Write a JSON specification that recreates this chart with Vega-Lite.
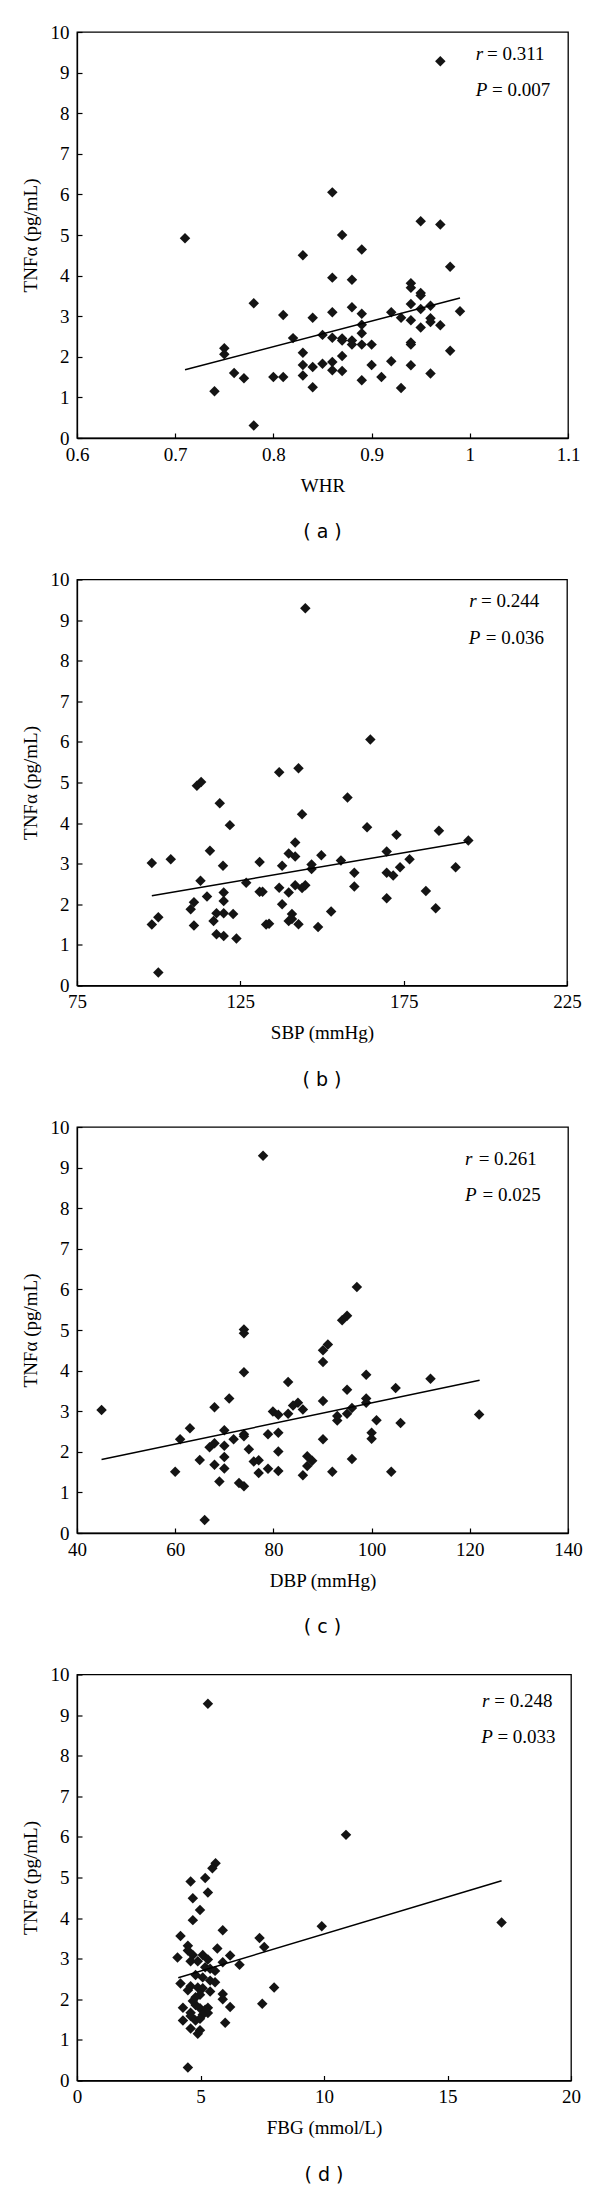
{
  "$schema": "https://vega.github.io/schema/vega-lite/v6.json",
  "background": "white",
  "padding": {"left": 20, "top": 22, "right": 5, "bottom": 2},
  "spacing": 26.5,
  "config": {
    "view": {"stroke": "#000", "strokeWidth": 1.3},
    "font": "Liberation Serif",
    "axis": {"grid": false, "domainColor": "#000", "domainWidth": 1.3, "tickColor": "#000", "tickWidth": 1.2, "tickSize": -5,
      "labelFont": "Liberation Serif", "labelFontSize": 19, "labelColor": "#000",
      "titleFont": "Liberation Serif", "titleFontSize": 19, "titleFontWeight": "normal", "titleColor": "#000",
      "labelFlush": false, "labelOverlap": false},
    "axisX": {"labelPadding": 12, "titlePadding": 12},
    "axisY": {"labelPadding": 13, "titlePadding": 10},
    "title": {"font": "DejaVu Sans", "fontSize": 19, "fontWeight": "normal", "color": "#000", "orient": "bottom", "offset": 28, "anchor": "middle", "frame": "group"},
    "text": {"font": "Liberation Serif", "fontSize": 19, "color": "#000"},
    "point": {"shape": "diamond", "filled": true, "size": 110, "color": "#141414", "opacity": 1},
    "line": {"color": "#000", "strokeWidth": 1.5}
  },
  "datasets": {
    "whr": [
      {"whr":0.97,"tnf":9.28},{"whr":0.86,"tnf":6.05},{"whr":0.95,"tnf":5.34},{"whr":0.97,"tnf":5.26},{"whr":0.71,"tnf":4.92},{"whr":0.87,"tnf":5.00},{"whr":0.89,"tnf":4.64},{"whr":0.83,"tnf":4.50},{"whr":0.98,"tnf":4.22},{"whr":0.86,"tnf":3.95},{"whr":0.88,"tnf":3.90},{"whr":0.94,"tnf":3.81},{"whr":0.94,"tnf":3.70},{"whr":0.95,"tnf":3.57},{"whr":0.95,"tnf":3.51},{"whr":0.78,"tnf":3.32},{"whr":0.94,"tnf":3.30},{"whr":0.96,"tnf":3.26},{"whr":0.88,"tnf":3.22},{"whr":0.95,"tnf":3.18},{"whr":0.99,"tnf":3.12},{"whr":0.86,"tnf":3.10},{"whr":0.92,"tnf":3.10},{"whr":0.89,"tnf":3.06},{"whr":0.81,"tnf":3.03},{"whr":0.84,"tnf":2.96},{"whr":0.93,"tnf":2.96},{"whr":0.96,"tnf":2.95},{"whr":0.94,"tnf":2.90},{"whr":0.96,"tnf":2.86},{"whr":0.89,"tnf":2.79},{"whr":0.97,"tnf":2.78},{"whr":0.95,"tnf":2.72},{"whr":0.89,"tnf":2.58},{"whr":0.85,"tnf":2.54},{"whr":0.86,"tnf":2.47},{"whr":0.87,"tnf":2.45},{"whr":0.82,"tnf":2.46},{"whr":0.87,"tnf":2.40},{"whr":0.88,"tnf":2.40},{"whr":0.94,"tnf":2.35},{"whr":0.88,"tnf":2.30},{"whr":0.89,"tnf":2.30},{"whr":0.90,"tnf":2.30},{"whr":0.94,"tnf":2.30},{"whr":0.75,"tnf":2.21},{"whr":0.75,"tnf":2.06},{"whr":0.98,"tnf":2.15},{"whr":0.83,"tnf":2.10},{"whr":0.87,"tnf":2.02},{"whr":0.92,"tnf":1.89},{"whr":0.86,"tnf":1.87},{"whr":0.85,"tnf":1.83},{"whr":0.83,"tnf":1.80},{"whr":0.90,"tnf":1.80},{"whr":0.94,"tnf":1.79},{"whr":0.84,"tnf":1.75},{"whr":0.86,"tnf":1.67},{"whr":0.87,"tnf":1.65},{"whr":0.76,"tnf":1.60},{"whr":0.96,"tnf":1.59},{"whr":0.83,"tnf":1.54},{"whr":0.77,"tnf":1.47},{"whr":0.80,"tnf":1.50},{"whr":0.81,"tnf":1.50},{"whr":0.91,"tnf":1.50},{"whr":0.89,"tnf":1.42},{"whr":0.84,"tnf":1.25},{"whr":0.93,"tnf":1.23},{"whr":0.74,"tnf":1.15},{"whr":0.78,"tnf":0.31}
    ],
    "fit_whr": [{"whr":0.71,"tnf":1.68},{"whr":0.99,"tnf":3.45}],
    "sbp": [
      {"sbp":144.9,"tnf":9.29},{"sbp":164.8,"tnf":6.06},{"sbp":136.9,"tnf":5.25},{"sbp":142.8,"tnf":5.35},{"sbp":111.7,"tnf":4.92},{"sbp":113.0,"tnf":5.01},{"sbp":157.8,"tnf":4.63},{"sbp":118.7,"tnf":4.49},{"sbp":143.9,"tnf":4.22},{"sbp":121.8,"tnf":3.95},{"sbp":163.8,"tnf":3.90},{"sbp":185.8,"tnf":3.81},{"sbp":172.8,"tnf":3.71},{"sbp":194.8,"tnf":3.57},{"sbp":141.8,"tnf":3.52},{"sbp":115.7,"tnf":3.32},{"sbp":169.8,"tnf":3.30},{"sbp":139.8,"tnf":3.25},{"sbp":149.8,"tnf":3.21},{"sbp":141.8,"tnf":3.18},{"sbp":103.7,"tnf":3.11},{"sbp":176.8,"tnf":3.11},{"sbp":155.8,"tnf":3.08},{"sbp":97.9,"tnf":3.02},{"sbp":130.9,"tnf":3.04},{"sbp":146.8,"tnf":2.98},{"sbp":119.7,"tnf":2.95},{"sbp":137.8,"tnf":2.95},{"sbp":173.9,"tnf":2.91},{"sbp":190.9,"tnf":2.91},{"sbp":146.8,"tnf":2.87},{"sbp":159.9,"tnf":2.78},{"sbp":169.8,"tnf":2.78},{"sbp":171.8,"tnf":2.71},{"sbp":112.8,"tnf":2.58},{"sbp":126.8,"tnf":2.53},{"sbp":141.8,"tnf":2.47},{"sbp":144.9,"tnf":2.47},{"sbp":136.9,"tnf":2.41},{"sbp":143.9,"tnf":2.40},{"sbp":159.9,"tnf":2.44},{"sbp":181.8,"tnf":2.33},{"sbp":130.9,"tnf":2.31},{"sbp":131.8,"tnf":2.31},{"sbp":119.9,"tnf":2.29},{"sbp":139.8,"tnf":2.29},{"sbp":114.8,"tnf":2.19},{"sbp":169.8,"tnf":2.15},{"sbp":119.9,"tnf":2.08},{"sbp":110.8,"tnf":2.05},{"sbp":137.8,"tnf":2.00},{"sbp":109.8,"tnf":1.88},{"sbp":184.8,"tnf":1.90},{"sbp":152.8,"tnf":1.82},{"sbp":117.7,"tnf":1.78},{"sbp":119.9,"tnf":1.78},{"sbp":122.8,"tnf":1.76},{"sbp":140.8,"tnf":1.76},{"sbp":99.9,"tnf":1.68},{"sbp":139.8,"tnf":1.59},{"sbp":116.8,"tnf":1.59},{"sbp":140.8,"tnf":1.64},{"sbp":97.9,"tnf":1.50},{"sbp":110.8,"tnf":1.48},{"sbp":132.9,"tnf":1.50},{"sbp":133.8,"tnf":1.52},{"sbp":142.8,"tnf":1.51},{"sbp":148.8,"tnf":1.44},{"sbp":117.7,"tnf":1.26},{"sbp":119.9,"tnf":1.22},{"sbp":123.8,"tnf":1.16},{"sbp":99.9,"tnf":0.32}
    ],
    "fit_sbp": [{"sbp":97.9,"tnf":2.21},{"sbp":194.8,"tnf":3.54}],
    "dbp": [
      {"dbp":77.9,"tnf":9.29},{"dbp":97.0,"tnf":6.06},{"dbp":94.0,"tnf":5.24},{"dbp":95.0,"tnf":5.35},{"dbp":74.0,"tnf":5.01},{"dbp":74.0,"tnf":4.92},{"dbp":91.1,"tnf":4.64},{"dbp":90.1,"tnf":4.50},{"dbp":90.1,"tnf":4.21},{"dbp":74.0,"tnf":3.96},{"dbp":98.9,"tnf":3.90},{"dbp":112.0,"tnf":3.80},{"dbp":83.0,"tnf":3.72},{"dbp":104.9,"tnf":3.57},{"dbp":95.0,"tnf":3.53},{"dbp":71.0,"tnf":3.31},{"dbp":98.9,"tnf":3.31},{"dbp":98.9,"tnf":3.21},{"dbp":90.1,"tnf":3.25},{"dbp":85.0,"tnf":3.21},{"dbp":84.0,"tnf":3.14},{"dbp":68.0,"tnf":3.10},{"dbp":96.0,"tnf":3.08},{"dbp":86.0,"tnf":3.04},{"dbp":45.0,"tnf":3.03},{"dbp":79.9,"tnf":2.99},{"dbp":83.0,"tnf":2.94},{"dbp":95.0,"tnf":2.94},{"dbp":121.9,"tnf":2.92},{"dbp":81.0,"tnf":2.91},{"dbp":93.0,"tnf":2.88},{"dbp":93.0,"tnf":2.77},{"dbp":101.0,"tnf":2.78},{"dbp":105.9,"tnf":2.71},{"dbp":63.0,"tnf":2.58},{"dbp":70.0,"tnf":2.53},{"dbp":81.0,"tnf":2.47},{"dbp":100.0,"tnf":2.47},{"dbp":74.0,"tnf":2.43},{"dbp":78.9,"tnf":2.43},{"dbp":74.0,"tnf":2.38},{"dbp":61.0,"tnf":2.31},{"dbp":71.9,"tnf":2.31},{"dbp":90.1,"tnf":2.31},{"dbp":100.0,"tnf":2.32},{"dbp":68.0,"tnf":2.21},{"dbp":70.0,"tnf":2.15},{"dbp":67.0,"tnf":2.11},{"dbp":75.0,"tnf":2.06},{"dbp":81.0,"tnf":2.01},{"dbp":86.9,"tnf":1.89},{"dbp":70.0,"tnf":1.87},{"dbp":65.0,"tnf":1.80},{"dbp":96.0,"tnf":1.82},{"dbp":77.0,"tnf":1.79},{"dbp":87.9,"tnf":1.78},{"dbp":76.0,"tnf":1.76},{"dbp":68.0,"tnf":1.68},{"dbp":86.9,"tnf":1.65},{"dbp":78.9,"tnf":1.58},{"dbp":70.0,"tnf":1.59},{"dbp":81.0,"tnf":1.53},{"dbp":60.0,"tnf":1.51},{"dbp":77.0,"tnf":1.48},{"dbp":92.0,"tnf":1.51},{"dbp":104.0,"tnf":1.51},{"dbp":86.0,"tnf":1.42},{"dbp":69.0,"tnf":1.27},{"dbp":73.0,"tnf":1.23},{"dbp":74.0,"tnf":1.15},{"dbp":66.0,"tnf":0.32}
    ],
    "fit_dbp": [{"dbp":45.0,"tnf":1.81},{"dbp":122.0,"tnf":3.76}],
    "fbg": [
      {"fbg":5.30,"tnf":9.28},{"fbg":10.89,"tnf":6.05},{"fbg":5.61,"tnf":5.35},{"fbg":5.48,"tnf":5.23},{"fbg":4.60,"tnf":4.90},{"fbg":5.19,"tnf":4.99},{"fbg":5.30,"tnf":4.63},{"fbg":4.69,"tnf":4.49},{"fbg":4.98,"tnf":4.20},{"fbg":4.69,"tnf":3.95},{"fbg":5.90,"tnf":3.70},{"fbg":9.91,"tnf":3.80},{"fbg":17.19,"tnf":3.89},{"fbg":4.19,"tnf":3.56},{"fbg":7.39,"tnf":3.51},{"fbg":4.49,"tnf":3.32},{"fbg":7.58,"tnf":3.29},{"fbg":5.68,"tnf":3.25},{"fbg":4.49,"tnf":3.20},{"fbg":4.69,"tnf":3.09},{"fbg":5.09,"tnf":3.09},{"fbg":6.20,"tnf":3.08},{"fbg":4.07,"tnf":3.03},{"fbg":5.30,"tnf":2.98},{"fbg":4.60,"tnf":2.94},{"fbg":4.89,"tnf":2.94},{"fbg":5.90,"tnf":2.91},{"fbg":6.58,"tnf":2.85},{"fbg":5.19,"tnf":2.79},{"fbg":5.39,"tnf":2.75},{"fbg":5.59,"tnf":2.70},{"fbg":5.09,"tnf":2.54},{"fbg":5.39,"tnf":2.46},{"fbg":5.59,"tnf":2.42},{"fbg":4.19,"tnf":2.39},{"fbg":4.60,"tnf":2.32},{"fbg":4.89,"tnf":2.29},{"fbg":7.98,"tnf":2.29},{"fbg":5.09,"tnf":2.27},{"fbg":5.39,"tnf":2.19},{"fbg":5.90,"tnf":2.13},{"fbg":4.98,"tnf":2.11},{"fbg":4.80,"tnf":2.05},{"fbg":5.90,"tnf":2.00},{"fbg":7.50,"tnf":1.89},{"fbg":4.80,"tnf":1.86},{"fbg":4.29,"tnf":1.79},{"fbg":6.20,"tnf":1.81},{"fbg":4.98,"tnf":1.78},{"fbg":5.30,"tnf":1.79},{"fbg":5.19,"tnf":1.74},{"fbg":5.30,"tnf":1.66},{"fbg":4.60,"tnf":1.67},{"fbg":4.60,"tnf":1.59},{"fbg":5.09,"tnf":1.62},{"fbg":4.29,"tnf":1.48},{"fbg":4.80,"tnf":1.48},{"fbg":4.98,"tnf":1.52},{"fbg":6.00,"tnf":1.42},{"fbg":4.60,"tnf":1.28},{"fbg":4.98,"tnf":1.24},{"fbg":4.89,"tnf":1.15},{"fbg":4.49,"tnf":0.32},{"fbg":4.49,"tnf":2.22},{"fbg":4.69,"tnf":1.96},{"fbg":4.80,"tnf":2.60}
    ],
    "fit_fbg": [{"fbg":4.10,"tnf":2.53},{"fbg":17.19,"tnf":4.92}]
  },
  "vconcat": [
    {
      "width": 491, "height": 406,
      "title": {"text": "( a )"},
      "layer": [
        {"data": {"name": "whr"}, "mark": {"type": "point"},
         "encoding": {
           "x": {"field": "whr", "type": "quantitative", "scale": {"domain": [0.6, 1.1], "nice": false, "zero": false}, "axis": {"title": "WHR", "values": [0.6, 0.7, 0.8, 0.9, 1, 1.1], "format": "~g"}},
           "y": {"field": "tnf", "type": "quantitative", "scale": {"domain": [0, 10], "nice": false}, "axis": {"title": "TNFα (pg/mL)", "values": [0,1,2,3,4,5,6,7,8,9,10]}}}},
        {"data": {"name": "fit_whr"}, "mark": {"type": "line"},
         "encoding": {
           "x": {"field": "whr", "type": "quantitative", "scale": {"domain": [0.6, 1.1], "nice": false, "zero": false}, "axis": {"title": "WHR"}},
           "y": {"field": "tnf", "type": "quantitative", "scale": {"domain": [0, 10], "nice": false}, "axis": {"title": "TNFα (pg/mL)"}}}},
        {"data": {"values": [{"t": "r"}]}, "mark": {"type": "text", "fontStyle": "italic", "align": "left", "baseline": "middle"},
         "encoding": {"x": {"datum": 1.006, "type": "quantitative"}, "y": {"datum": 9.47, "type": "quantitative"}, "text": {"field": "t"}}},
        {"data": {"values": [{"t": "= 0.311"}]}, "mark": {"type": "text", "align": "left", "baseline": "middle"},
         "encoding": {"x": {"datum": 1.0176, "type": "quantitative"}, "y": {"datum": 9.47, "type": "quantitative"}, "text": {"field": "t"}}},
        {"data": {"values": [{"t": "P"}]}, "mark": {"type": "text", "fontStyle": "italic", "align": "left", "baseline": "middle"},
         "encoding": {"x": {"datum": 1.006, "type": "quantitative"}, "y": {"datum": 8.58, "type": "quantitative"}, "text": {"field": "t"}}},
        {"data": {"values": [{"t": "= 0.007"}]}, "mark": {"type": "text", "align": "left", "baseline": "middle"},
         "encoding": {"x": {"datum": 1.0227, "type": "quantitative"}, "y": {"datum": 8.58, "type": "quantitative"}, "text": {"field": "t"}}}
      ]
    },
    {
      "width": 490, "height": 406,
      "title": {"text": "( b )"},
      "layer": [
        {"data": {"name": "sbp"}, "mark": {"type": "point"},
         "encoding": {
           "x": {"field": "sbp", "type": "quantitative", "scale": {"domain": [75, 225], "nice": false, "zero": false}, "axis": {"title": "SBP (mmHg)", "values": [75, 125, 175, 225]}},
           "y": {"field": "tnf", "type": "quantitative", "scale": {"domain": [0, 10], "nice": false}, "axis": {"title": "TNFα (pg/mL)", "values": [0,1,2,3,4,5,6,7,8,9,10]}}}},
        {"data": {"name": "fit_sbp"}, "mark": {"type": "line"},
         "encoding": {
           "x": {"field": "sbp", "type": "quantitative", "scale": {"domain": [75, 225], "nice": false, "zero": false}, "axis": {"title": "SBP (mmHg)"}},
           "y": {"field": "tnf", "type": "quantitative", "scale": {"domain": [0, 10], "nice": false}, "axis": {"title": "TNFα (pg/mL)"}}}},
        {"data": {"values": [{"t": "r"}]}, "mark": {"type": "text", "fontStyle": "italic", "align": "left", "baseline": "middle"},
         "encoding": {"x": {"datum": 195.1, "type": "quantitative"}, "y": {"datum": 9.46, "type": "quantitative"}, "text": {"field": "t"}}},
        {"data": {"values": [{"t": "= 0.244"}]}, "mark": {"type": "text", "align": "left", "baseline": "middle"},
         "encoding": {"x": {"datum": 198.7, "type": "quantitative"}, "y": {"datum": 9.46, "type": "quantitative"}, "text": {"field": "t"}}},
        {"data": {"values": [{"t": "P"}]}, "mark": {"type": "text", "fontStyle": "italic", "align": "left", "baseline": "middle"},
         "encoding": {"x": {"datum": 194.9, "type": "quantitative"}, "y": {"datum": 8.56, "type": "quantitative"}, "text": {"field": "t"}}},
        {"data": {"values": [{"t": "= 0.036"}]}, "mark": {"type": "text", "align": "left", "baseline": "middle"},
         "encoding": {"x": {"datum": 200.1, "type": "quantitative"}, "y": {"datum": 8.56, "type": "quantitative"}, "text": {"field": "t"}}}
      ]
    },
    {
      "width": 491, "height": 406,
      "title": {"text": "( c )"},
      "layer": [
        {"data": {"name": "dbp"}, "mark": {"type": "point"},
         "encoding": {
           "x": {"field": "dbp", "type": "quantitative", "scale": {"domain": [40, 140], "nice": false, "zero": false}, "axis": {"title": "DBP (mmHg)", "values": [40, 60, 80, 100, 120, 140]}},
           "y": {"field": "tnf", "type": "quantitative", "scale": {"domain": [0, 10], "nice": false}, "axis": {"title": "TNFα (pg/mL)", "values": [0,1,2,3,4,5,6,7,8,9,10]}}}},
        {"data": {"name": "fit_dbp"}, "mark": {"type": "line"},
         "encoding": {
           "x": {"field": "dbp", "type": "quantitative", "scale": {"domain": [40, 140], "nice": false, "zero": false}, "axis": {"title": "DBP (mmHg)"}},
           "y": {"field": "tnf", "type": "quantitative", "scale": {"domain": [0, 10], "nice": false}, "axis": {"title": "TNFα (pg/mL)"}}}},
        {"data": {"values": [{"t": "r"}]}, "mark": {"type": "text", "fontStyle": "italic", "align": "left", "baseline": "middle"},
         "encoding": {"x": {"datum": 119.0, "type": "quantitative"}, "y": {"datum": 9.21, "type": "quantitative"}, "text": {"field": "t"}}},
        {"data": {"values": [{"t": "= 0.261"}]}, "mark": {"type": "text", "align": "left", "baseline": "middle"},
         "encoding": {"x": {"datum": 121.8, "type": "quantitative"}, "y": {"datum": 9.21, "type": "quantitative"}, "text": {"field": "t"}}},
        {"data": {"values": [{"t": "P"}]}, "mark": {"type": "text", "fontStyle": "italic", "align": "left", "baseline": "middle"},
         "encoding": {"x": {"datum": 119.0, "type": "quantitative"}, "y": {"datum": 8.32, "type": "quantitative"}, "text": {"field": "t"}}},
        {"data": {"values": [{"t": "= 0.025"}]}, "mark": {"type": "text", "align": "left", "baseline": "middle"},
         "encoding": {"x": {"datum": 122.6, "type": "quantitative"}, "y": {"datum": 8.32, "type": "quantitative"}, "text": {"field": "t"}}}
      ]
    },
    {
      "width": 494, "height": 406,
      "title": {"text": "( d )"},
      "layer": [
        {"data": {"name": "fbg"}, "mark": {"type": "point"},
         "encoding": {
           "x": {"field": "fbg", "type": "quantitative", "scale": {"domain": [0, 20], "nice": false, "zero": false}, "axis": {"title": "FBG (mmol/L)", "values": [0, 5, 10, 15, 20]}},
           "y": {"field": "tnf", "type": "quantitative", "scale": {"domain": [0, 10], "nice": false}, "axis": {"title": "TNFα (pg/mL)", "values": [0,1,2,3,4,5,6,7,8,9,10]}}}},
        {"data": {"name": "fit_fbg"}, "mark": {"type": "line"},
         "encoding": {
           "x": {"field": "fbg", "type": "quantitative", "scale": {"domain": [0, 20], "nice": false, "zero": false}, "axis": {"title": "FBG (mmol/L)"}},
           "y": {"field": "tnf", "type": "quantitative", "scale": {"domain": [0, 10], "nice": false}, "axis": {"title": "TNFα (pg/mL)"}}}},
        {"data": {"values": [{"t": "r"}]}, "mark": {"type": "text", "fontStyle": "italic", "align": "left", "baseline": "middle"},
         "encoding": {"x": {"datum": 16.40, "type": "quantitative"}, "y": {"datum": 9.35, "type": "quantitative"}, "text": {"field": "t"}}},
        {"data": {"values": [{"t": "= 0.248"}]}, "mark": {"type": "text", "align": "left", "baseline": "middle"},
         "encoding": {"x": {"datum": 16.89, "type": "quantitative"}, "y": {"datum": 9.35, "type": "quantitative"}, "text": {"field": "t"}}},
        {"data": {"values": [{"t": "P"}]}, "mark": {"type": "text", "fontStyle": "italic", "align": "left", "baseline": "middle"},
         "encoding": {"x": {"datum": 16.37, "type": "quantitative"}, "y": {"datum": 8.47, "type": "quantitative"}, "text": {"field": "t"}}},
        {"data": {"values": [{"t": "= 0.033"}]}, "mark": {"type": "text", "align": "left", "baseline": "middle"},
         "encoding": {"x": {"datum": 17.02, "type": "quantitative"}, "y": {"datum": 8.47, "type": "quantitative"}, "text": {"field": "t"}}}
      ]
    }
  ]
}
